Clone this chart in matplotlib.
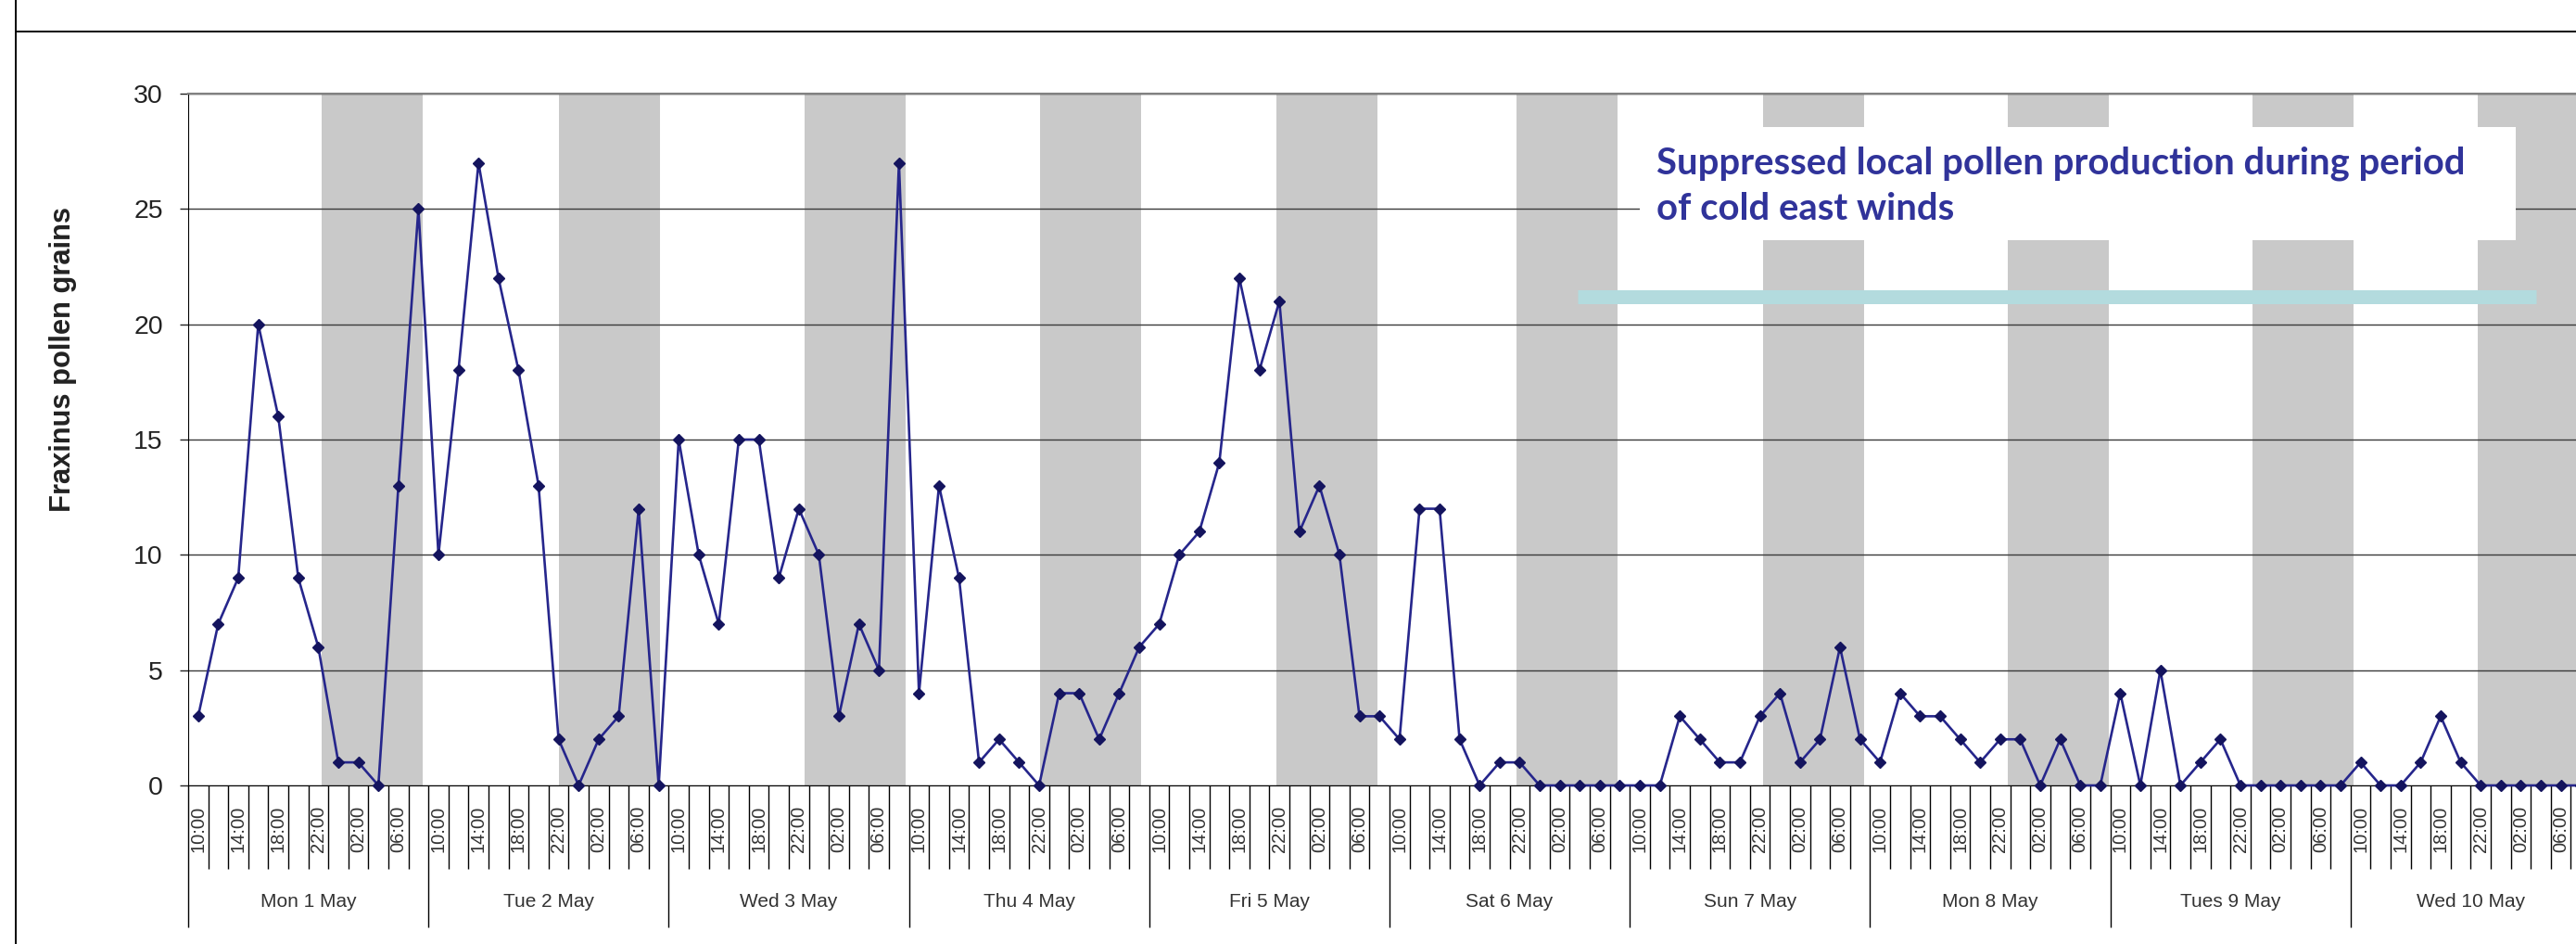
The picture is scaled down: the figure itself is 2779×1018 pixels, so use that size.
import numpy as np
import matplotlib
matplotlib.use("Agg")
import matplotlib.pyplot as plt
from matplotlib.lines import Line2D
from matplotlib.patches import Rectangle
from matplotlib.ticker import FixedLocator, NullFormatter

# two-hourly Fraxinus counts, 10:00 to 08:00 next morning
days = ['Mon 1 May', 'Tue 2 May', 'Wed 3 May', 'Thu 4 May', 'Fri 5 May',
        'Sat 6 May', 'Sun 7 May', 'Mon 8 May', 'Tues 9 May', 'Wed 10 May']
hours = ['10:00', '12:00', '14:00', '16:00', '18:00', '20:00',
         '22:00', '00:00', '02:00', '04:00', '06:00', '08:00']

mon1 = [3, 7, 9, 20, 16, 9, 6, 1, 1, 0, 13, 25]
tue2 = [10, 18, 27, 22, 18, 13, 2, 0, 2, 3, 12, 0]
wed3 = [15, 10, 7, 15, 15, 9, 12, 10, 3, 7, 5, 27]
thu4 = [4, 13, 9, 1, 2, 1, 0, 4, 4, 2, 4, 6]
fri5 = [7, 10, 11, 14, 22, 18, 21, 11, 13, 10, 3, 3]
sat6 = [2, 12, 12, 2, 0, 1, 1, 0, 0, 0, 0, 0]
sun7 = [0, 0, 3, 2, 1, 1, 3, 4, 1, 2, 6, 2]
mon8 = [1, 4, 3, 3, 2, 1, 2, 2, 0, 2, 0, 0]
tue9 = [4, 0, 5, 0, 1, 2, 0, 0, 0, 0, 0, 0]
wed10 = [1, 0, 0, 1, 3, 1, 0, 0, 0, 0, 0, 0]

# night shading: start of each dark band, in hour-slots after the day start
night_start = [6.67, 6.52, 6.79, 6.55, 6.35, 6.34, 6.66, 6.88, 7.1, 6.35]
night_len = 5.05

note = ['Suppressed local pollen production during period', 'of cold east winds']

counts = mon1 + tue2 + wed3 + thu4 + fri5 + sat6 + sun7 + mon8 + tue9 + wed10
n_per_day = len(hours)
x = np.arange(len(counts))

W, H = 2779, 1018
fig = plt.figure(figsize=(W / 100, H / 100), dpi=100)
fig.patch.set_facecolor('white')

# axes run off the right edge, like the cropped original
ax = fig.add_axes([203 / W, (H - 847) / H, 2592 / W, 746 / H])
ax.set_xlim(-0.5, len(counts) - 0.5)
ax.set_ylim(0, 30)

for d, s in enumerate(night_start):
    x0 = d * n_per_day - 0.5 + s
    ax.axvspan(x0, x0 + night_len, color='#c9c9c9', lw=0, zorder=0.5)

ax.set_yticks(np.arange(0, 31, 5))
ax.yaxis.grid(True, color='#3a3a3a', lw=1.0, zorder=1.5)
ax.tick_params(axis='y', direction='out', length=6.5, width=1.0, pad=13,
               labelsize=20.5, labelcolor='#222222', color='#222222')
for lab in ax.get_yticklabels():
    lab.set_fontfamily('Liberation Sans')

# category boundaries as tick lines, longer ones between days
bounds = np.arange(len(counts) + 1) - 0.5
day_bounds = bounds[::n_per_day]
ax.xaxis.set_major_locator(FixedLocator(day_bounds))
ax.xaxis.set_minor_locator(FixedLocator([b for b in bounds if b not in day_bounds]))
ax.xaxis.set_major_formatter(NullFormatter())
ax.tick_params(axis='x', which='major', direction='out', length=110, width=1.0, color='black')
ax.tick_params(axis='x', which='minor', direction='out', length=64.8, width=1.0, color='black')

trans = ax.get_xaxis_transform()
for i in x[::2]:
    ax.text(i, -0.063, hours[i % n_per_day], transform=trans, rotation=90,
            ha='center', va='center', fontsize=14.5, color='#333333',
            family='Liberation Sans', clip_on=False)
for d, name in enumerate(days):
    ax.text(d * n_per_day + n_per_day / 2 - 0.5, -0.1676, name, transform=trans,
            ha='center', va='center', fontsize=15, color='#333333',
            family='Liberation Sans', clip_on=False)

ax.spines['right'].set_visible(False)
ax.spines['top'].set_color('#808080')
ax.spines['top'].set_linewidth(1.6)
ax.spines['left'].set_color('black')
ax.spines['bottom'].set_color('black')

# annotation box, bar and text
ax.add_patch(Rectangle((72.0, 23.64), 115.75 - 72.0, 28.55 - 23.64,
                       facecolor='white', edgecolor='none', zorder=2))
ax.plot([68.9, 116.77], [21.21, 21.21], color='#b3dbde', lw=10.8,
        solid_capstyle='butt', zorder=3)
ax.text(72.83, 26.52, note[0], fontsize=28.8, fontweight='bold', color='#30339a',
        family='Lato', va='baseline', ha='left', zorder=4)
ax.text(72.83, 24.55, note[1], fontsize=28.8, fontweight='bold', color='#30339a',
        family='Lato', va='baseline', ha='left', zorder=4)

ax.plot(x, counts, color='#26268c', lw=1.9, marker='D', markersize=6,
        markerfacecolor='#14145e', markeredgecolor='#14145e', zorder=5, clip_on=False)

fig.text(68 / W, 1 - 388 / H, 'Fraxinus pollen grains', rotation=90, ha='center',
         va='center', fontsize=22.2, fontweight='bold', color='#222222',
         family='Liberation Sans')

# sheet frame lines
fig.add_artist(Line2D([17 / W, 1], [1 - 34 / H, 1 - 34 / H], color='black', lw=1.4))
fig.add_artist(Line2D([17 / W, 17 / W], [0, 1], color='black', lw=1.4))

fig.savefig('out.png', dpi=100, facecolor='white')
